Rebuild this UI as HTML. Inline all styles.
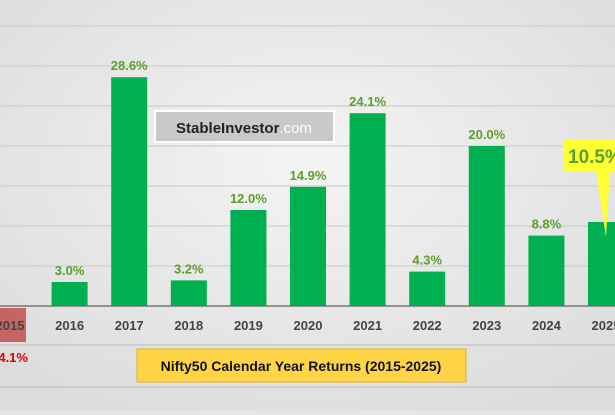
<!DOCTYPE html>
<html><head><meta charset="utf-8"><style>
body{margin:0;width:615px;height:410px;overflow:hidden;background:#e4e4e4;font-family:"Liberation Sans",sans-serif}
</style></head><body>
<svg id="c" width="615" height="410">
<defs><radialGradient id="bg" cx="50%" cy="40%" r="70%"><stop offset="0" stop-color="#f4f4f4"/><stop offset="1" stop-color="#dcdcdc"/></radialGradient></defs>
<rect width="615" height="410" fill="url(#bg)"/>
<g id="grid"></g><g id="bars"></g>
<line x1="0" y1="345" x2="615" y2="345" stroke="#bbb"/>
<line x1="0" y1="387" x2="615" y2="387" stroke="#bbb"/>
<rect x="155" y="111" width="179" height="31" fill="#c9c9c9" stroke="#fff" stroke-width="2"/>
<text x="244" y="133" text-anchor="middle" font-size="15" font-weight="bold" fill="#222">StableInvestor<tspan font-weight="normal" fill="#fff">.com</tspan></text>
<rect x="137" y="349" width="329" height="33" fill="#ffd447" stroke="#e0b020"/>
<text x="301" y="371" text-anchor="middle" font-size="14" font-weight="bold" fill="#111">Nifty50 Calendar Year Returns (2015-2025)</text>
</svg>
<script>
const years=["2015","2016","2017","2018","2019","2020","2021","2022","2023","2024","2025"];
const returns=[-4.1,3.0,28.6,3.2,12.0,14.9,24.1,4.3,20.0,8.8,10.5];
const gridTicks=[5,10,15,20,25,30,35];
const NS="http://www.w3.org/2000/svg";
const x=i=>10+i*59.6, y=v=>306-v*8;
function mk(t,a,p){const e=document.createElementNS(NS,t);for(const k in a)e.setAttribute(k,a[k]);p.appendChild(e);return e;}
const g=document.getElementById('grid'),b=document.getElementById('bars'),svg=document.getElementById('c');
gridTicks.forEach(v=>{const l=mk('line',{x1:0,x2:615,y1:y(v),y2:y(v),stroke:'#c8c8c8'},g);

});
const ax=mk('line',{x1:0,x2:615,y1:306,y2:306,stroke:'#777','stroke-width':1.5},g);


years.forEach((yr,i)=>{const v=returns[i],cx=x(i);
 if(v>=0){const r=mk('rect',{x:cx-18,y:y(v),width:36,height:306-y(v),fill:'#00b050'},b);
 
 
 if(i<years.length-1){const t=mk('text',{x:cx,y:y(v)-7,'text-anchor':'middle','font-size':13,'font-weight':'bold',fill:'#5aa02c'},b);t.textContent=v.toFixed(1)+'%';
 
 }}
 else{const r=mk('rect',{x:cx-28,y:308,width:44,height:34,fill:'#c0504d',opacity:0.85},b);
 
 
 const t=mk('text',{x:cx+1,y:362,'text-anchor':'middle','font-size':13,'font-weight':'bold',fill:'#e00000'},b);t.textContent=v.toFixed(1)+'%';
 
 }
 const l=mk('text',{x:cx,y:330,'text-anchor':'middle','font-size':13,'font-weight':'bold',fill:'#444'},b);l.textContent=yr;
 
 
});
const li=years.length-1,lx=x(li),lv=returns[li];
const cb=mk('path',{d:`M563 140 H620 V171 H${lx+4} L${lx} ${y(lv)+15} L${lx-10} 171 H563 Z`,fill:'#ffff33'},svg);


const ct=mk('text',{x:568,y:163,'font-size':19,'font-weight':'bold',fill:'#5aa02c'},svg);ct.textContent=lv.toFixed(1)+'%';


</script>
</body></html>
